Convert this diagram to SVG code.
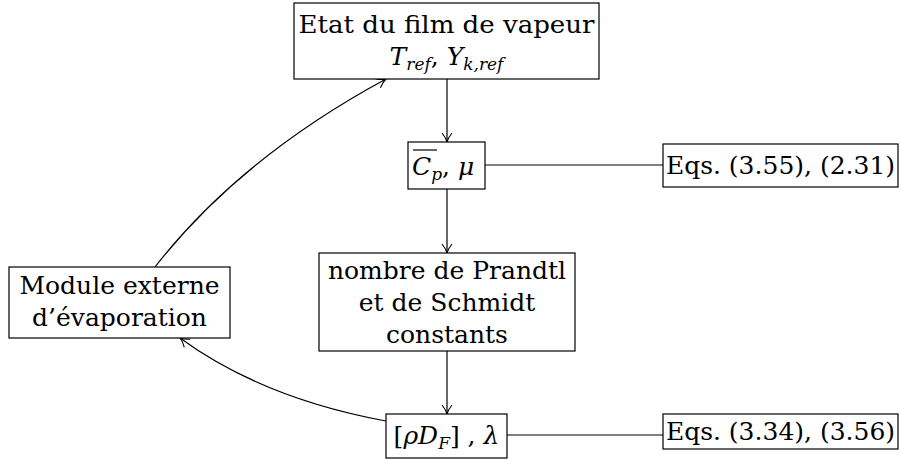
<svg xmlns="http://www.w3.org/2000/svg" width="901" height="459" viewBox="0 0 901 459">
<defs>
<style>
.box{fill:#fff;stroke:#000;stroke-width:1.2}
.t{font-family:"DejaVu Serif",serif;font-size:25px;fill:#000}
.m{font-style:italic}
.s{font-size:17px}
.c{fill:none;stroke:#000;stroke-width:1.2}
</style>
<marker id="a" markerWidth="12" markerHeight="12" refX="10" refY="6" orient="auto" markerUnits="userSpaceOnUse">
<path d="M1,1 Q6,5 10,6 Q6,7 1,11" fill="none" stroke="#000" stroke-width="1.1"/>
</marker>
</defs>
<g id="connectors">
<line class="c" x1="447" y1="79" x2="447" y2="142" marker-end="url(#a)"/>
<line class="c" x1="447" y1="189" x2="447" y2="253" marker-end="url(#a)"/>
<line class="c" x1="447" y1="351" x2="447" y2="414" marker-end="url(#a)"/>
<line class="c" x1="485" y1="165" x2="663" y2="165"/>
<line class="c" x1="507" y1="435" x2="663" y2="435"/>
<path class="c" d="M386,421 Q262,398 180,338" marker-end="url(#a)"/>
<path class="c" d="M155,267 Q240,158 386,79" marker-end="url(#a)"/>
</g>
<g id="etat">
<rect class="box" x="294" y="3" width="305" height="76"/>
<text class="t" x="446.5" y="33" text-anchor="middle" textLength="296" lengthAdjust="spacingAndGlyphs">Etat du film de vapeur</text>
<text class="t" x="446.5" y="65" text-anchor="middle"><tspan class="m">T</tspan><tspan class="m s" dy="5">ref</tspan><tspan dy="-5">, </tspan><tspan class="m">Y</tspan><tspan class="m s" dy="5">k,ref</tspan></text>
</g>
<g id="cp">
<rect class="box" x="408" y="142" width="77" height="47"/>
<line x1="413" y1="150" x2="437" y2="150" stroke="#000" stroke-width="1.2"/>
<text class="t" x="412" y="175"><tspan class="m">C</tspan><tspan class="m s" dy="5">p</tspan><tspan dy="-5">, </tspan><tspan class="m">μ</tspan></text>
</g>
<g id="eqs1">
<rect class="box" x="663" y="144" width="235" height="43"/>
<text class="t" x="780.5" y="174" text-anchor="middle">Eqs. (3.55), (2.31)</text>
</g>
<g id="nombre">
<rect class="box" x="319" y="253" width="256" height="98"/>
<text class="t" x="447" y="279" text-anchor="middle">nombre de Prandtl</text>
<text class="t" x="447" y="311" text-anchor="middle">et de Schmidt</text>
<text class="t" x="447" y="343" text-anchor="middle">constants</text>
</g>
<g id="module">
<rect class="box" x="9" y="267" width="221" height="71"/>
<text class="t" x="119.5" y="294" text-anchor="middle">Module externe</text>
<text class="t" x="119.5" y="326" text-anchor="middle">d’évaporation</text>
</g>
<g id="rho">
<rect class="box" x="386" y="414" width="121" height="44"/>
<text class="t" x="446.5" y="444" text-anchor="middle">[<tspan class="m">ρD</tspan><tspan class="m s" dy="5">F</tspan><tspan dy="-5">] , </tspan><tspan class="m">λ</tspan></text>
</g>
<g id="eqs2">
<rect class="box" x="663" y="414" width="235" height="35"/>
<text class="t" x="780.5" y="440" text-anchor="middle">Eqs. (3.34), (3.56)</text>
</g>
</svg>
